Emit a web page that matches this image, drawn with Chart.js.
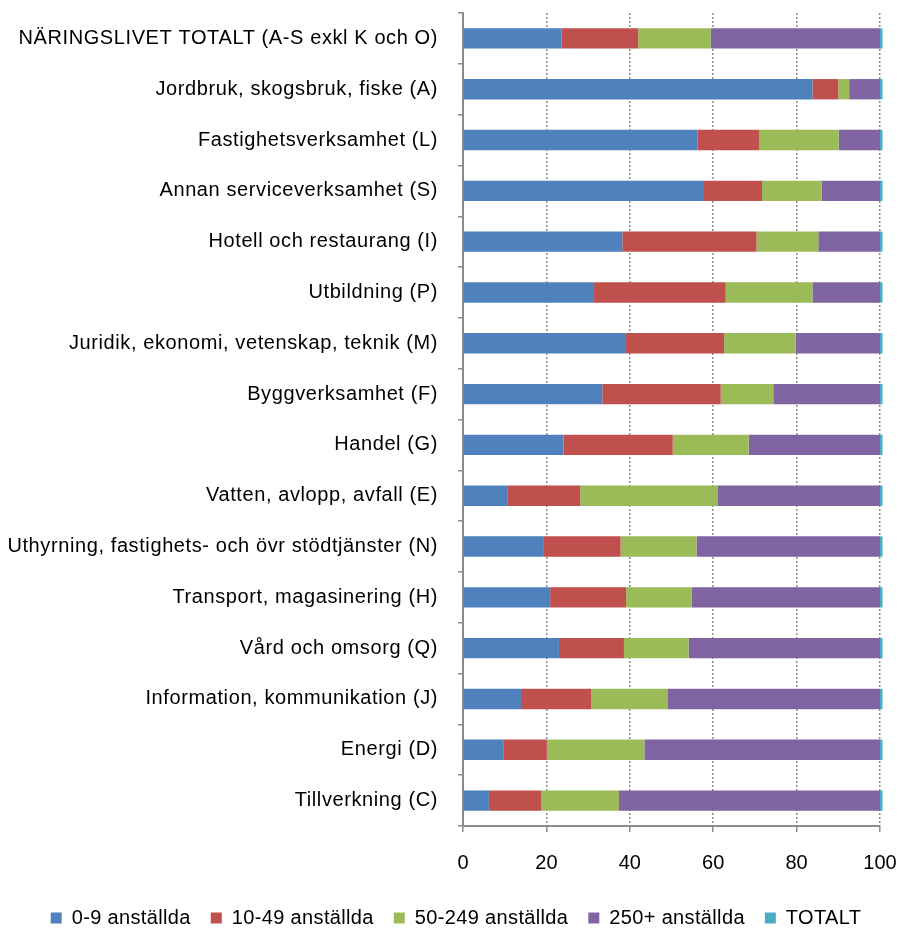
<!DOCTYPE html>
<html>
<head>
<meta charset="utf-8">
<script src="https://cdn.jsdelivr.net/npm/chart.js@4/dist/chart.umd.min.js"></script>
<style>
  html, body { margin: 0; padding: 0; background: #ffffff; }
  #wrap { position: relative; width: 899px; height: 932px; }
</style>
</head>
<body>
<div id="wrap"><canvas id="c" width="899" height="932"></canvas></div>
<script>
const categories = [
  "NÄRINGSLIVET TOTALT (A-S exkl K och O)",
  "Jordbruk, skogsbruk, fiske (A)",
  "Fastighetsverksamhet (L)",
  "Annan serviceverksamhet (S)",
  "Hotell och restaurang (I)",
  "Utbildning (P)",
  "Juridik, ekonomi, vetenskap, teknik (M)",
  "Byggverksamhet (F)",
  "Handel (G)",
  "Vatten, avlopp, avfall (E)",
  "Uthyrning, fastighets- och övr stödtjänster (N)",
  "Transport, magasinering (H)",
  "Vård och omsorg (Q)",
  "Information, kommunikation (J)",
  "Energi (D)",
  "Tillverkning (C)"
];
const seriesNames = ["0-9 anställda", "10-49 anställda", "50-249 anställda", "250+ anställda", "TOTALT"];
const small   = [23.6, 83.8, 56.2, 57.8, 38.2, 31.2, 39.1, 33.4, 24.1, 10.6, 19.4, 20.9, 23.0, 13.9, 9.8, 6.2];
const medium1 = [18.4, 6.2, 14.8, 13.9, 32.2, 31.8, 23.5, 28.4, 26.2, 17.5, 18.4, 18.2, 15.6, 16.8, 10.3, 12.5];
const medium2 = [17.4, 2.6, 19.1, 14.3, 14.8, 20.8, 17.2, 12.6, 18.2, 32.9, 18.2, 15.7, 15.5, 18.3, 23.4, 18.7];
const large   = [40.6, 7.4, 9.9, 14.0, 14.8, 16.2, 20.2, 25.6, 31.5, 39.0, 44.0, 45.2, 45.9, 51.0, 56.5, 62.6];
const totalt  = [0.6, 0.6, 0.6, 0.6, 0.6, 0.6, 0.6, 0.6, 0.6, 0.6, 0.6, 0.6, 0.6, 0.6, 0.6, 0.6];
const xTicks = [0, 20, 40, 60, 80, 100];

const colors = ["#4F81BD", "#C0504D", "#9BBB59", "#8064A2", "#4BACC6"];
const seriesData = [small, medium1, medium2, large, totalt];

const FONT = "'Liberation Sans', Arial, sans-serif";

function withSpacing(ctx, sp, fn) {
  const old = ctx.letterSpacing;
  ctx.letterSpacing = sp;
  try { return fn(); } finally { ctx.letterSpacing = old !== undefined ? old : '0px'; }
}

const textTweaks = {
  id: 'textTweaks',
  beforeInit(chart) {
    const lg = chart.legend;
    const origFit = lg.fit;
    lg.fit = function () {
      withSpacing(chart.ctx, '0.35px', () => origFit.call(lg));
      this.height = 44;
    };
    const origDraw = lg.draw;
    lg.draw = function () {
      const ctx = chart.ctx;
      ctx.save();
      ctx.translate(16, 0);
      withSpacing(ctx, '0.35px', () => origDraw.apply(lg, arguments));
      ctx.restore();
    };
  },
  beforeDraw(chart) {
    const spacing = { x: '0px', y: '0.6px' };
    Object.keys(spacing).forEach(id => {
      const sc = chart.scales[id];
      if (sc && !sc._spacingPatched) {
        const orig = sc.drawLabels;
        sc.drawLabels = function () {
          withSpacing(chart.ctx, spacing[id], () => orig.apply(sc, arguments));
        };
        sc._spacingPatched = true;
      }
    });
  }
};

new Chart(document.getElementById('c'), {
  type: 'bar',
  data: {
    labels: categories,
    datasets: seriesData.map((d, i) => ({
      label: seriesNames[i],
      data: d,
      backgroundColor: colors[i],
      borderWidth: 0,
      categoryPercentage: 1.0,
      barPercentage: 0.4,
      clip: false
    }))
  },
  options: {
    indexAxis: 'y',
    responsive: false,
    animation: false,
    layout: { padding: { top: 13, right: 19, bottom: 0, left: 0 } },
    scales: {
      x: {
        stacked: true,
        min: 0,
        max: 100,
        afterBuildTicks: (scale) => { scale.ticks = xTicks.map(v => ({ value: v })); },
        afterFit: (scale) => {
          scale.height = 62;
          scale.paddingLeft = 0; scale.paddingRight = 0;
        },
        ticks: {
          color: '#000',
          font: { family: FONT, size: 20 },
          padding: 19,
          maxRotation: 0
        },
        grid: {
          display: true,
          color: '#8c8c8c',
          lineWidth: 1.5,
          drawTicks: true,
          tickLength: 6,
          tickColor: '#8c8c8c',
          tickWidth: 1.5,
          tickBorderDash: []
        },
        border: { display: true, color: '#8a8a8a', width: 2, dash: [2, 2] }
      },
      y: {
        stacked: true,
        afterFit: (scale) => {
          scale.width = 463;
          scale.paddingTop = 0; scale.paddingBottom = 0;
        },
        ticks: {
          color: '#000',
          font: { family: FONT, size: 20 },
          padding: 20,
          autoSkip: false
        },
        grid: {
          display: true,
          offset: true,
          drawOnChartArea: false,
          drawTicks: true,
          tickLength: 5,
          color: '#8c8c8c',
          lineWidth: 1.5
        },
        border: { display: true, color: '#8a8a8a', width: 2 }
      }
    },
    plugins: {
      legend: {
        position: 'bottom',
        labels: {
          color: '#000',
          font: { family: FONT, size: 20 },
          boxWidth: 11,
          boxHeight: 11,
          padding: 20
        }
      },
      tooltip: { enabled: false }
    }
  },
  plugins: [textTweaks]
});
</script>
</body>
</html>
